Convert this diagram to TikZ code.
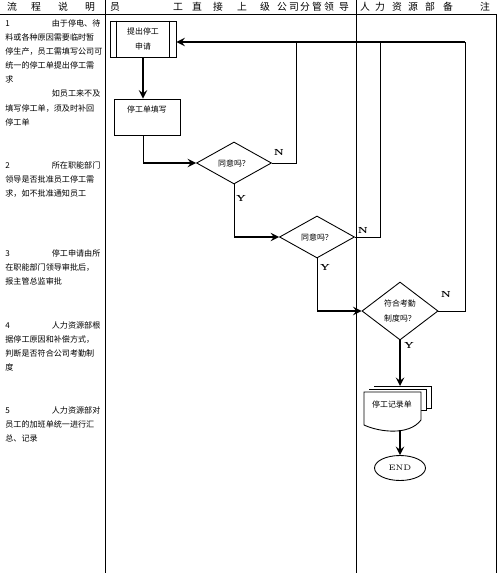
\documentclass[tikz,border=0pt]{standalone}
\usepackage{fontspec}
\newfontfamily\cjk{Noto Sans CJK SC}
\usetikzlibrary{shapes.geometric}

\begin{document}
\begin{tikzpicture}[x=0.02cm, y=-0.02cm, >=stealth,
    font=\cjk\fontsize{4.5}{8.5}\selectfont,
    rule/.style={line width=0.5pt},
    flow/.style={->, line width=1.1pt},
    head/.style={inner sep=0, font=\cjk\fontsize{5.6}{6}\selectfont},
    note/.style={anchor=north west, inner sep=0, text width=1.9cm, align=left,
        font=\cjk\fontsize{4.6}{8}\selectfont},
    box/.style={draw, line width=0.5pt, minimum width=1.32cm, minimum height=0.72cm,
        inner sep=0, align=center},
    ask/.style={draw, diamond, aspect=2, line width=0.5pt, inner sep=0,
        minimum width=1.5cm, minimum height=0.84cm, align=center},
    yn/.style={inner sep=0, font=\normalfont\bfseries\fontsize{5}{6}\selectfont}]

    \useasboundingbox (0,0) rectangle (500,573);

    % 1. Table frame
    \draw[rule] (0,14) -- (496,14);
    \draw[rule] (105,0) -- (105,573);
    \draw[rule] (356,0) -- (356,573);
    \draw[rule] (496,14) -- (496,573);

    % 2. Header row
    \foreach \c/\x in {流/12, 程/36, 说/63, 明/90, 员/115, 工/178, 直/197, 接/218,
        上/242, 级/265, 公/282, 司/294, 分/305, 管/317, 领/329, 导/344,
        人/365, 力/380, 资/397, 源/413, 部/430, 备/448, 注/485}
        \node[head] (h\x) at (\x,7) {\c};

    % 3. Process notes (left column)
    \node[note] (n1) at (5,19.5) {1\hfill 由于停电、待\\料或各种原因需要临时暂\\停生产，员工需填写公司可\\统一的停工单提出停工需\\求\\\hspace*{\fill}如员工来不及\\填写停工单，须及时补回\\停工单};
    \node[note] (n2) at (5,161.5) {2\hfill 所在职能部门\\领导是否批准员工停工需\\求，如不批准通知员工};
    \node[note] (n3) at (5,249.5) {3\hfill 停工申请由所\\在职能部门领导审批后，\\报主管总监审批};
    \node[note] (n4) at (5,321.5) {4\hfill 人力资源部根\\据停工原因和补偿方式，\\判断是否符合公司考勤制\\度};
    \node[note] (n5) at (5,406.5) {5\hfill 人力资源部对\\员工的加班单统一进行汇\\总、记录};

    % 4. Flow nodes
    \node[box] (apply) at (143,39) {提出停工\\申请};
    \draw[rule] ([xshift=0.14cm]apply.north west) -- ([xshift=0.14cm]apply.south west)
        ([xshift=-0.14cm]apply.north east) -- ([xshift=-0.14cm]apply.south east);
    \node[box] (fill) at (147,117) {停工单填写\\ \mbox{}};
    \node[ask] (q1) at (234,163) {同意吗？};
    \node[ask] (q2) at (317,237) {同意吗？};
    \node[ask, minimum height=1.16cm] (q3) at (400,311) {符合考勤\\制度吗？};

    % stacked record sheets: back sheets show only top and right edges
    \foreach \d in {10,5}
        \draw[rule] (364+\d,392-0.6*\d) -- (421+\d,392-0.6*\d)
            -- (421+\d,412-0.4*\d) -- (416+\d,412-0.4*\d);
    \draw[rule, fill=white] (364,392) -- (421,392) -- (421,420)
        .. controls (409,436) and (379,432) .. (364,425) -- cycle;
    \node (record) at (392,404) {停工记录单};
    \coordinate (recTop) at (400,386);
    \coordinate (recBot) at (400,430);
    \node[draw, ellipse, rule, minimum width=1.02cm, minimum height=0.5cm, inner sep=0,
        font=\normalfont\fontsize{4.5}{5}\selectfont] (stop) at (400,468) {END};

    % 5. Connectors
    \draw[flow] (apply.south) -- (apply.south |- fill.north);
    \draw[rule] (fill.south -| apply) -- (apply |- q1.west);
    \draw[flow] (apply |- q1.west) -- (q1.west);
    \draw[rule] (q1.south) -- (q1.south |- q2.west);
    \draw[flow] (q1.south |- q2.west) -- (q2.west);
    \draw[rule] (q2.south) -- (q2.south |- q3.west);
    \draw[flow] (q2.south |- q3.west) -- (q3.west);
    \draw[flow] (q3.south) -- (recTop);
    \draw[flow] (recBot) -- (stop);

    % "N" returns to the application box
    \coordinate (back) at (465,42);
    \foreach \q/\xr in {q1/296, q2/380, q3/465}
        \draw[rule] (\q.east) -| (\xr,42);
    \draw[flow] (back) -- (back -| apply.east);

    % 6. Y / N labels
    \foreach \i/\nx/\ny/\yx/\yy in {1/279/152/241/198, 2/363/230/325/267, 3/446/294/409/345} {
        \node[yn] (no\i) at (\nx,\ny) {N};
        \node[yn] (yes\i) at (\yx,\yy) {Y};
    }
\end{tikzpicture}
\end{document}
